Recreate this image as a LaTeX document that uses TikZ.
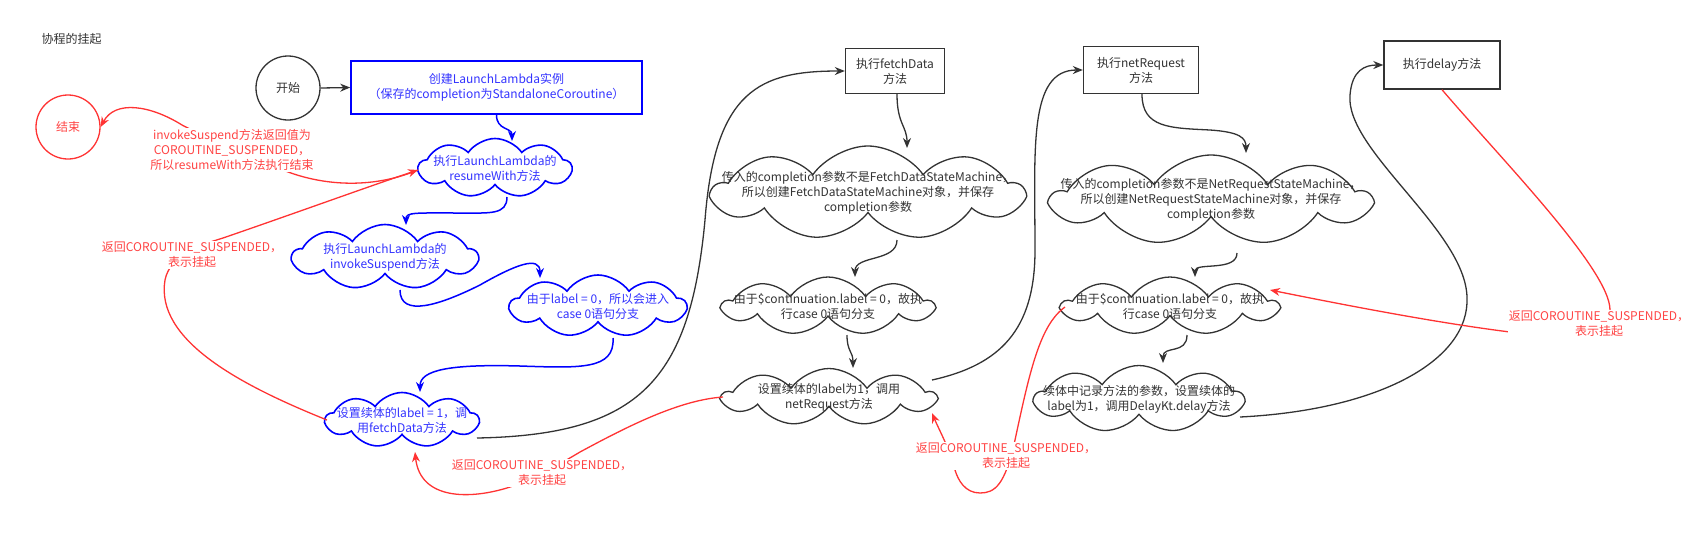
\documentclass[tikz,border=0pt]{standalone}
\usepackage{fontspec}
\setmainfont{Noto Sans CJK SC}
\usetikzlibrary{shapes.symbols,arrows.meta,calc}
\definecolor{ink}{HTML}{333333}
\definecolor{bline}{HTML}{0000FF}
\definecolor{btext}{HTML}{3333FF}
\definecolor{rline}{HTML}{FF3333}
\definecolor{rtext}{HTML}{FF4444}
\tikzset{
 base/.style={font=\fontsize{12}{15}\selectfont, align=center},
 tk/.style={base, text=ink},
 tb/.style={base, text=btext},
 tr/.style={base, text=rtext},
 cloudk/.style={cloud, cloud puffs=9, cloud puff arc=110, cloud ignores aspect, draw=ink, line width=1.3pt, fill=white, inner sep=0pt},
 cloudb/.style={cloudk, draw=bline, line width=1.6pt},
 boxk/.style={rectangle, draw=ink, line width=1.4pt, fill=white, tk},
 boxb/.style={rectangle, draw=bline, line width=1.6pt, fill=white, tb},
 circk/.style={circle, draw=ink, line width=1.3pt, minimum size=64pt, inner sep=0pt, tk},
 circr/.style={circle, draw=rline, line width=1.3pt, minimum size=64pt, inner sep=0pt, tr},
 labr/.style={tr, fill=white, inner sep=1pt},
 ek/.style={draw=ink, line width=1.3pt},
 eb/.style={draw=bline, line width=1.5pt},
 er/.style={draw=rline, line width=1.3pt},
 ar/.style={-{Stealth[length=10pt,width=8pt]}},
}
\begin{document}
\begin{tikzpicture}[x=1pt,y=-1pt]
\useasboundingbox (0,0) rectangle (1695,542);
\node[tk, anchor=west] (title) at (38,39) {协程的挂起};
% main nodes
\node[circk] (start) at (288,88) {开始};
\node[circr] (end) at (68,127) {结束};
\node[boxb, minimum width=291pt, minimum height=53pt] (rectA) at (496.5,87.5) {创建LaunchLambda实例\\（保存的completion为StandaloneCoroutine）};
\node[cloudb, minimum width=153pt, minimum height=59pt, label={[tb]center:{执行LaunchLambda的\\resumeWith方法}}] (c1) at (495,168) {};
\node[cloudb, minimum width=185pt, minimum height=65pt, label={[tb]center:{执行LaunchLambda的\\invokeSuspend方法}}] (c2) at (385,257) {};
\node[cloudb, minimum width=176pt, minimum height=62pt, label={[tb]center:{由于label = 0，所以会进入\\case 0语句分支}}] (c3) at (598,306) {};
\node[cloudb, minimum width=153pt, minimum height=55pt, label={[tb]center:{设置续体的label = 1，调\\用fetchData方法}}] (c4) at (402,420) {};
\node[boxk, minimum width=99pt, minimum height=45pt] (rectF) at (895,71) {执行fetchData\\方法};
\node[cloudk, minimum width=310pt, minimum height=94pt, label={[tk]center:{传入的completion参数不是FetchDataStateMachine，\\所以创建FetchDataStateMachine对象，并保存\\completion参数}}] (f1) at (868,193) {};
\node[cloudk, minimum width=210pt, minimum height=58pt, label={[tk]center:{由于\$continuation.label = 0，故执\\行case 0语句分支}}] (f2) at (828,306) {};
\node[cloudk, minimum width=212pt, minimum height=57pt, label={[tk]center:{设置续体的label为1，调用\\netRequest方法}}] (f3) at (829,397) {};
\node[boxk, minimum width=115pt, minimum height=47pt] (rectN) at (1141,70) {执行netRequest\\方法};
\node[cloudk, minimum width=318pt, minimum height=90pt, label={[tk]center:{传入的completion参数不是NetRequestStateMachine，\\所以创建NetRequestStateMachine对象，并保存\\completion参数}}] (n1) at (1211,200) {};
\node[cloudk, minimum width=215pt, minimum height=58pt, label={[tk]center:{由于\$continuation.label = 0，故执\\行case 0语句分支}}] (n2) at (1170,306) {};
\node[cloudk, minimum width=208pt, minimum height=67pt, label={[tk]center:{续体中记录方法的参数，设置续体的\\label为1，调用DelayKt.delay方法}}] (n3) at (1139,399) {};
\node[boxk, minimum width=116pt, minimum height=48pt] (rectD) at (1442,65) {执行delay方法};
% black / blue connectors
\draw[ek,ar] (start.east) -- (rectA.west);
\draw[eb,ar] (rectA.south) .. controls +(0,16) and +(0,-14) .. ($(c1)+(17,-27)$);
\draw[eb,ar] ($(c1)+(12,29)$) .. controls (507,215) and (490,213) .. (460,213) .. controls (415,213) and (406,212) .. ($(c2)+(21,-32)$);
\draw[eb,ar] ($(c2)+(15,33)$) .. controls (400,318) and (440,305) .. (480,285) .. controls (515,265) and (540,255) .. ($(c3)+(-58,-28)$);
\draw[eb,ar] ($(c3)+(15,32)$) .. controls (615,370) and (580,368) .. (520,366) .. controls (450,364) and (420,370) .. ($(c4)+(18,-28)$);
\draw[ek,ar] ($(c4)+(75,18)$) .. controls (640,435) and (690,380) .. (705,220) .. controls (715,90) and (760,71) .. (rectF.west);
\draw[ek,ar] ($(rectF.south)+(2,0)$) .. controls +(0,30) and +(0,-22) .. ($(f1)+(39,-45)$);
\draw[ek,ar] ($(f1)+(29,47)$) .. controls +(0,22) and +(0,-22) .. ($(f2)+(27,-29)$);
\draw[ek,ar] ($(f2)+(19,29)$) .. controls +(0,17) and +(0,-17) .. ($(f3)+(24,-29)$);
\draw[ek,ar] ($(f3)+(103,-17)$) .. controls (1000,365) and (1035,330) .. (1035,250) .. controls (1035,150) and (1028,70) .. (rectN.west);
\draw[ek,ar] ($(rectN.south)+(1,0)$) .. controls (1142,128) and (1170,128) .. (1210,130) .. controls (1240,132) and (1246,138) .. ($(n1)+(35,-47)$);
\draw[ek,ar] ($(n1)+(26,53)$) .. controls +(0,19) and +(0,-15) .. ($(n2)+(25,-29)$);
\draw[ek,ar] ($(n2)+(17,29)$) .. controls +(0,20) and +(0,-18) .. ($(n3)+(24,-36)$);
\draw[ek,ar] ($(n3)+(101,18)$) .. controls (1380,410) and (1470,360) .. (1467,297) .. controls (1465,230) and (1345,150) .. (1350,95) .. controls (1352,70) and (1365,65) .. (rectD.west);
% red connectors
\draw[er,ar] (rectD.south) .. controls (1503,161) and (1610,270) .. (1610,310) .. controls (1600,340) and (1540,333) .. (1510,332) .. controls (1430,322) and (1330,302) .. ($(n2)+(100,-16)$);
\draw[er,ar] ($(n2)+(-105,1)$) .. controls (1040,325) and (1030,370) .. (1015,440) .. controls (1005,485) and (995,493) .. (980,493) .. controls (965,493) and (958,480) .. (955,470) .. controls (948,445) and (940,432) .. ($(f3)+(103,16)$);
\draw[er,ar] ($(f3)+(-106,0)$) .. controls (680,400) and (630,425) .. (580,452) .. controls (550,470) and (530,480) .. (510,487) .. controls (470,500) and (420,500) .. ($(c4)+(13,32)$);
\draw[er,ar] ($(c4)+(-75,0)$) .. controls (240,385) and (155,340) .. (165,280) .. controls (170,255) and (200,245) .. (223,238) .. controls (290,215) and (370,186) .. ($(c1)+(-77,2)$);
\draw[er,ar] ($(c1)+(-77,2)$) .. controls (370,190) and (320,185) .. (283,170) .. controls (250,150) and (210,140) .. (182,125) .. controls (150,105) and (115,100) .. (end.east);
% red labels
\node[labr] (lab1) at (232,150) {invokeSuspend方法返回值为\\COROUTINE\_SUSPENDED，\\所以resumeWith方法执行结束};
\node[labr] (lab2) at (192,255) {返回COROUTINE\_SUSPENDED，\\表示挂起};
\node[labr] (lab3) at (542,473) {返回COROUTINE\_SUSPENDED，\\表示挂起};
\node[labr] (lab4) at (1006,456) {返回COROUTINE\_SUSPENDED，\\表示挂起};
\node[labr] (lab5) at (1599,324) {返回COROUTINE\_SUSPENDED，\\表示挂起};
\end{tikzpicture}
\end{document}
